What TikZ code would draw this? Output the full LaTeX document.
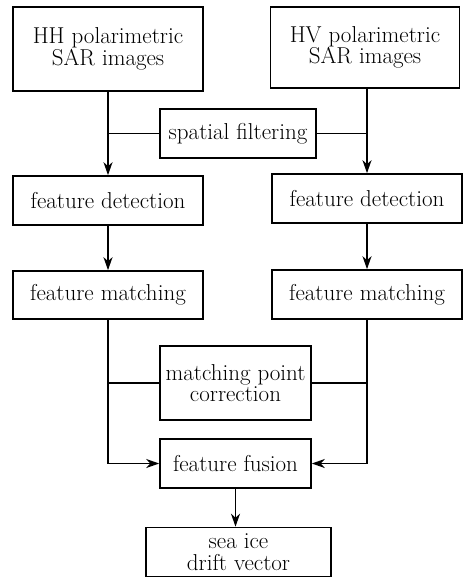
\documentclass[tikz,border=0pt]{standalone}
\usetikzlibrary{arrows.meta}
\begin{document}
\begin{tikzpicture}[x=1pt,y=-1pt,
  box/.style={draw, line width=1.6pt, align=center, inner sep=0pt,
    font=\fontsize{23}{21.5}\selectfont},
  arr/.style={line width=1.8pt, -{Stealth[length=13pt,width=9pt,inset=4pt]}},
  ln/.style={line width=1.8pt}]
\useasboundingbox (0,0) rectangle (470,578);
\node[box, minimum width=190pt, minimum height=84pt] (HH) at (108,49) {HH polarimetric\\SAR images};
\node[box, minimum width=189pt, minimum height=81pt] (HV) at (365,47.5) {HV polarimetric\\SAR images};
\node[box, minimum width=156pt, minimum height=49pt] (SF) at (238,133.5) {spatial filtering};
\node[box, minimum width=190pt, minimum height=49pt] (FDL) at (108,200.5) {feature detection};
\node[box, minimum width=190pt, minimum height=49pt] (FDR) at (367,198.5) {feature detection};
\node[box, minimum width=190pt, minimum height=48pt] (FML) at (108,295) {feature matching};
\node[box, minimum width=190pt, minimum height=49pt] (FMR) at (367,294.5) {feature matching};
\node[box, minimum width=151pt, minimum height=74pt] (MPC) at (235.5,383) {matching point\\correction};
\node[box, minimum width=151pt, minimum height=49pt] (FF) at (235.5,463.5) {feature fusion};
\node[box, minimum width=185pt, minimum height=49pt] (SI) at (238.5,552) {sea ice\\drift vector};
% arrows
\draw[arr] (HH.south) -- (FDL.north);
\draw[arr] (FDR.north |- HV.south) -- (FDR.north);
\draw[ln] (SF.west) -- (SF.west -| FDL.north);
\draw[ln] (SF.east) -- (SF.east -| FDR.north);
\draw[arr] (FDL.south) -- (FML.north);
\draw[arr] (FDR.south) -- (FMR.north);
\draw[ln] (MPC.west) -- (MPC.west -| FML.south);
\draw[ln] (MPC.east) -- (MPC.east -| FMR.south);
\draw[arr] (FML.south) |- (FF.west);
\draw[arr] (FMR.south) |- (FF.east);
\draw[arr] (FF.south) -- (FF.south |- SI.north);
\end{tikzpicture}
\end{document}
